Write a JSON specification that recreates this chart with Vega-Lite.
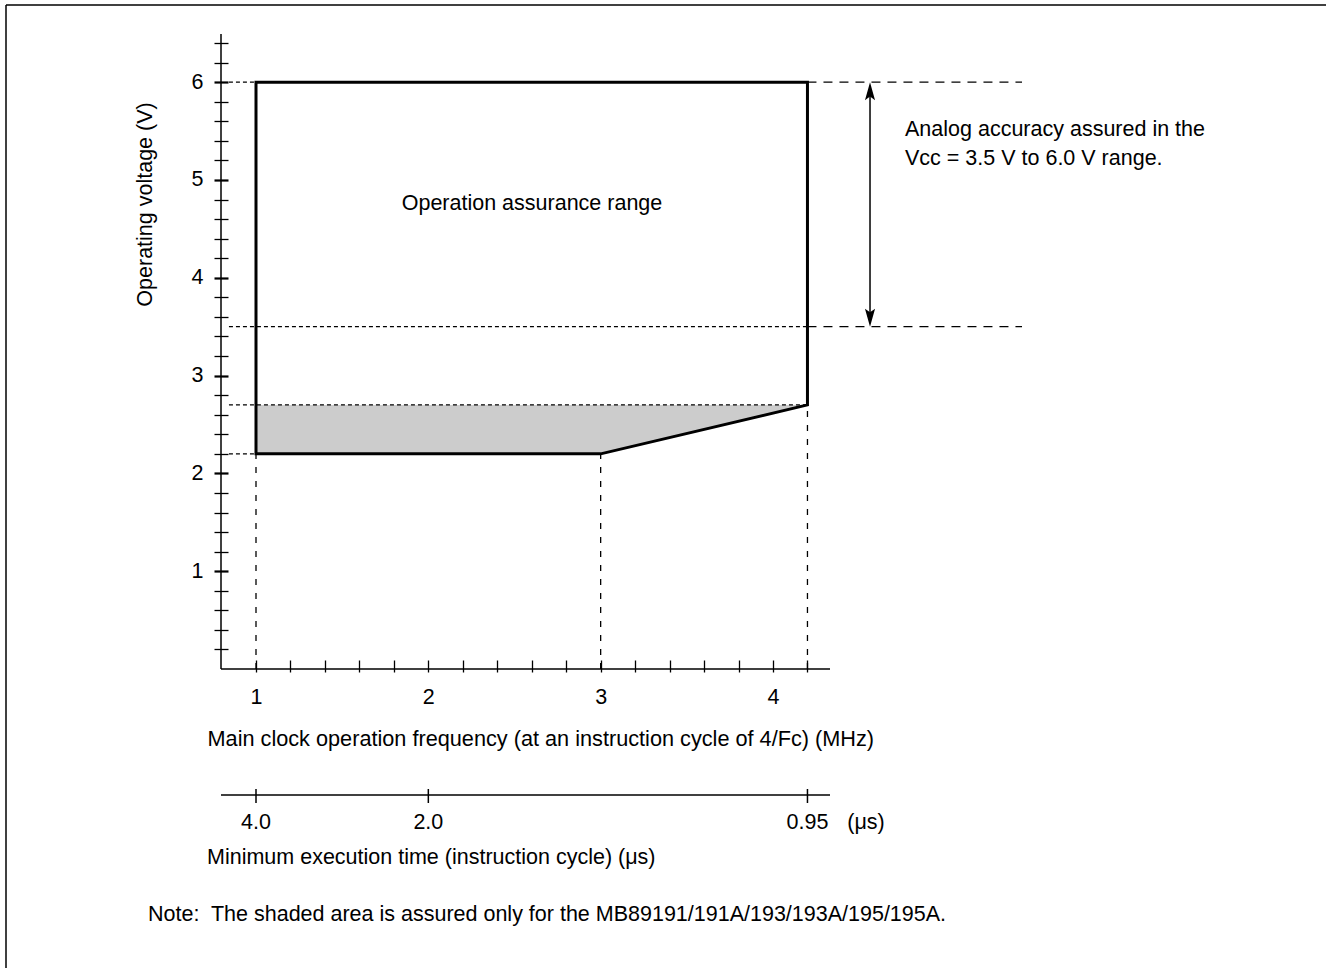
{
  "$schema": "https://vega.github.io/schema/vega-lite/v6.json",
  "width": 609,
  "height": 635,
  "autosize": {"type": "none"},
  "padding": {"left": 221, "top": 34, "right": 496, "bottom": 299},
  "background": "white",
  "config": {
    "view": {"stroke": null},
    "font": "Liberation Sans",
    "text": {"font": "Liberation Sans", "fontSize": 21.5, "color": "black"}
  },
  "datasets": {
    "outline": [
      {"f": 1, "v": 6, "o": 1},
      {"f": 4.2, "v": 6, "o": 2},
      {"f": 4.2, "v": 2.7, "o": 3},
      {"f": 3, "v": 2.2, "o": 4},
      {"f": 1, "v": 2.2, "o": 5},
      {"f": 1, "v": 6, "o": 6}
    ],
    "shade": [
      {"f": 1, "v": 2.7, "v2": 2.2},
      {"f": 3, "v": 2.7, "v2": 2.2},
      {"f": 4.2, "v": 2.7, "v2": 2.7}
    ],
    "dashed": [
      {"f": 0.843, "f2": 1, "v": 6, "v2": 6, "k": "s"},
      {"f": 0.843, "f2": 4.2, "v": 3.5, "v2": 3.5, "k": "s"},
      {"f": 0.843, "f2": 4.2, "v": 2.7, "v2": 2.7, "k": "s"},
      {"f": 0.843, "f2": 1, "v": 2.2, "v2": 2.2, "k": "s"},
      {"f": 4.2, "f2": 5.445, "v": 6, "v2": 6, "k": "l"},
      {"f": 4.2, "f2": 5.445, "v": 3.5, "v2": 3.5, "k": "l"},
      {"f": 1, "f2": 1, "v": 0, "v2": 2.2, "k": "v"},
      {"f": 3, "f2": 3, "v": 0, "v2": 2.2, "k": "v"},
      {"f": 4.2, "f2": 4.2, "v": 0, "v2": 2.7, "k": "v"}
    ],
    "solid": [
      {"f": -0.4507, "f2": 7.21, "v": 6.789, "v2": 6.789},
      {"f": -0.4507, "f2": -0.4507, "v": 6.789, "v2": -3.06},
      {"f": 0.7969, "f2": 0.7969, "v": 0, "v2": 6.4928},
      {"f": 0.7969, "f2": 4.3308, "v": 0, "v2": 0},
      {"f": 0.7969, "f2": 4.3308, "v": -1.288, "v2": -1.288},
      {"f": 1, "f2": 1, "v": -1.227, "v2": -1.37},
      {"f": 2, "f2": 2, "v": -1.227, "v2": -1.37},
      {"f": 4.2, "f2": 4.2, "v": -1.227, "v2": -1.37},
      {"f": 4.563, "f2": 4.563, "v": 3.6, "v2": 5.9}
    ],
    "arrows": [
      {"f": 4.563, "v": 6, "d": "up"},
      {"f": 4.563, "v": 3.5, "d": "down"}
    ],
    "textc": [
      {"f": 2.6016, "v": 4.755, "t": "Operation assurance range"},
      {"f": 1, "v": -1.575, "t": "4.0"},
      {"f": 2, "v": -1.575, "t": "2.0"},
      {"f": 4.2, "v": -1.575, "t": "0.95"},
      {"f": 4.54, "v": -1.575, "t": "(μs)"}
    ],
    "textl": [
      {"f": 4.766, "v": 5.511, "t": "Analog accuracy assured in the"},
      {"f": 4.766, "v": 5.215, "t": "Vcc = 3.5 V to 6.0 V range."},
      {"f": 0.7157, "v": -1.9325, "t": "Minimum execution time (instruction cycle) (μs)"},
      {"f": 0.3733, "v": -2.515, "t": "Note:\u00a0 The shaded area is assured only for the MB89191/191A/193/193A/195/195A."}
    ]
  },
  "encoding": {
    "x": {
      "field": "f",
      "type": "quantitative",
      "scale": {"domain": [0.7969, 4.3308], "nice": false, "zero": false},
      "axis": {
        "orient": "bottom",
        "values": [1, 1.2, 1.4, 1.6, 1.8, 2, 2.2, 2.4, 2.6, 2.8, 3, 3.2, 3.4, 3.6, 3.8, 4, 4.2],
        "labelExpr": "datum.value % 1 === 0 ? format(datum.value, 'd') : ''",
        "domain": false,
        "grid": false,
        "offset": -9,
        "tickSize": 12,
        "tickColor": "black",
        "tickWidth": 1.3,
        "labelPadding": 25,
        "labelBaseline": "middle",
        "labelFont": "Liberation Sans",
        "labelFontSize": 21.5,
        "labelColor": "black",
        "labelFlush": false,
        "labelOverlap": false,
        "title": "Main clock operation frequency (at an instruction cycle of 4/Fc) (MHz)",
        "titleX": -14,
        "titleY": 78,
        "titleAlign": "left",
        "titleBaseline": "middle",
        "titleFont": "Liberation Sans",
        "titleFontSize": 21.7,
        "titleFontWeight": "normal",
        "titleColor": "black"
      }
    },
    "y": {
      "field": "v",
      "type": "quantitative",
      "scale": {"domain": [0, 6.4928], "nice": false, "zero": false},
      "axis": {
        "orient": "left",
        "values": [0.2, 0.4, 0.6, 0.8, 1, 1.2, 1.4, 1.6, 1.8, 2, 2.2, 2.4, 2.6, 2.8, 3, 3.2, 3.4, 3.6, 3.8, 4, 4.2, 4.4, 4.6, 4.8, 5, 5.2, 5.4, 5.6, 5.8, 6, 6.2, 6.4],
        "labelExpr": "datum.value % 1 === 0 ? format(datum.value, 'd') : ''",
        "domain": false,
        "grid": false,
        "offset": -7,
        "tickSize": 14,
        "tickColor": "black",
        "tickWidth": {"condition": {"test": "datum.value % 1 === 0", "value": 2.2}, "value": 1.3},
        "labelPadding": 11,
        "labelFont": "Liberation Sans",
        "labelFontSize": 21.5,
        "labelColor": "black",
        "labelFlush": false,
        "labelOverlap": false,
        "title": "Operating voltage (V)",
        "titleAngle": -90,
        "titleX": -83,
        "titleY": 170,
        "titleAlign": "center",
        "titleBaseline": "middle",
        "titleFont": "Liberation Sans",
        "titleFontSize": 21.5,
        "titleFontWeight": "normal",
        "titleColor": "black"
      }
    }
  },
  "layer": [
    {
      "data": {"name": "shade"},
      "mark": {"type": "area", "color": "#cccccc", "opacity": 1},
      "encoding": {"y2": {"field": "v2"}}
    },
    {
      "data": {"name": "dashed"},
      "mark": {"type": "rule", "color": "black", "strokeWidth": 1.3},
      "encoding": {
        "x2": {"field": "f2"},
        "y2": {"field": "v2"},
        "strokeDash": {
          "field": "k",
          "type": "nominal",
          "scale": {"domain": ["s", "l", "v"], "range": [[4, 3], [9, 7], [6, 8]]},
          "legend": null
        }
      }
    },
    {
      "data": {"name": "solid"},
      "mark": {"type": "rule", "color": "black", "strokeWidth": 1.5},
      "encoding": {
        "x2": {"field": "f2"},
        "y2": {"field": "v2"}
      }
    },
    {
      "data": {"name": "outline"},
      "mark": {"type": "line", "color": "black", "strokeWidth": 3, "strokeCap": "square", "strokeJoin": "miter"},
      "encoding": {"order": {"field": "o", "type": "quantitative"}}
    },
    {
      "data": {"name": "arrows"},
      "mark": {"type": "point", "filled": true, "color": "black", "opacity": 1, "size": 1296},
      "encoding": {
        "shape": {
          "field": "d",
          "type": "nominal",
          "scale": {"domain": ["up", "down"], "range": ["M0,0L-0.28,1L0,0.8L0.28,1Z", "M0,0L-0.28,-1L0,-0.8L0.28,-1Z"]},
          "legend": null
        }
      }
    },
    {
      "data": {"name": "textc"},
      "mark": {"type": "text", "align": "center", "baseline": "middle", "fontSize": 21.5, "font": "Liberation Sans", "color": "black"},
      "encoding": {"text": {"field": "t"}}
    },
    {
      "data": {"name": "textl"},
      "mark": {"type": "text", "align": "left", "baseline": "middle", "fontSize": 21.5, "font": "Liberation Sans", "color": "black"},
      "encoding": {"text": {"field": "t"}}
    }
  ]
}
